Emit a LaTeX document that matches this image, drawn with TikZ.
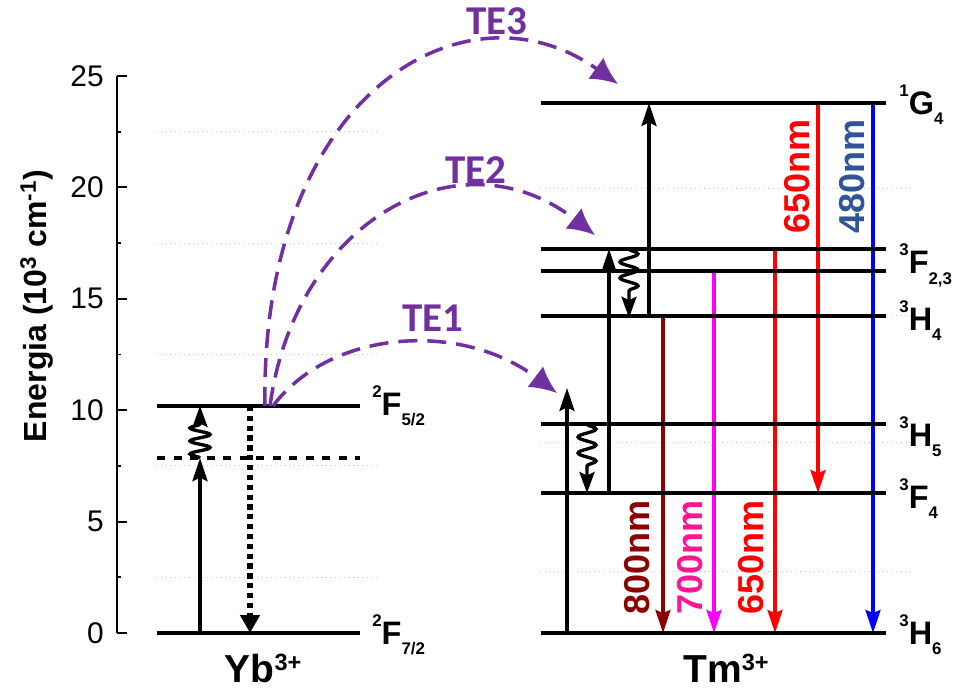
\documentclass[tikz,border=0pt]{standalone}
\usepackage{fontspec}
\setmainfont{Liberation Sans}
\newfontfamily\tefont{Carlito}
\usepackage{tikz}
\usetikzlibrary{arrows.meta,decorations.pathmorphing}

\definecolor{purp}{HTML}{7030A0}
\definecolor{nmdark}{HTML}{8B0000}
\definecolor{nmmag}{RGB}{255,0,255}
\definecolor{nmpink}{HTML}{FF1493}
\definecolor{nmblue}{HTML}{2F5597}

\newcommand{\ticksize}{\fontsize{17pt}{18pt}\selectfont}
\newcommand{\lvlsize}{\fontsize{18.5pt}{20pt}\selectfont\bfseries}
\newcommand{\nmsize}{\fontsize{20.5pt}{22pt}\selectfont\bfseries}
\newcommand{\ionsize}{\fontsize{22.2pt}{24pt}\selectfont\bfseries}
\newcommand{\term}[3]{\raisebox{0.56em}{\fontsize{9.6pt}{10pt}\selectfont #1}#2\raisebox{-0.31em}{\fontsize{9.6pt}{10pt}\selectfont #3}}

\begin{document}
\begin{tikzpicture}[x=1cm,y=0.4456cm,
  lvl/.style={line width=2.1pt},
  guide/.style={black!20,dotted,line width=0.6pt},
  exc/.style={line width=2pt,-{Stealth[length=0.46cm,width=0.3cm,inset=0.07cm]}},
  nonrad/.style={line width=1.9pt,decorate,
    decoration={snake,amplitude=0.18cm,segment length=0.32cm,post length=0.4cm},
    -{Stealth[length=0.42cm,width=0.3cm,inset=0.07cm]}},
  emis/.style={line width=2pt,-{Stealth[length=0.46cm,width=0.3cm,inset=0.06cm]}},
  transfer/.style={purp,line width=2pt,dash pattern=on 0.38cm off 0.2cm,
    -{Latex[length=0.54cm,width=0.52cm]}},
  lbl/.style={anchor=base west,inner sep=0,yshift=-0.23cm,font=\lvlsize},
  nm/.style={rotate=90,inner sep=0,font=\nmsize}]
\useasboundingbox (0,-2.558) rectangle (19.18,28.411);
% energy axis, in 10^3 cm^-1
\draw[line width=1.1pt] (2.334,0) -- (2.334,25);
\foreach \v in {0,5,...,25} {
  \draw[line width=1.1pt] (2.334,\v) -- (2.54,\v);
  \node[anchor=east,inner sep=0,font=\ticksize] (tick\v) at (2.08,\v) {\v};
}
\foreach \v in {2.5,7.5,...,22.5}
  \draw[line width=1.1pt] (2.334,\v) -- (2.42,\v);
\node[rotate=90,font=\fontsize{18.2pt}{20pt}\selectfont\bfseries] (ylab) at (0.74,14.68)
  {Energia (10\textsuperscript{3} cm\textsuperscript{-1})};
% faint guides
\foreach \v in {2.5,7.5,...,22.5}
  \draw[guide] (3.14,\v) -- (7.54,\v);
\foreach \v in {2.78,8.53,14.23,19.97}
  \draw[guide] (10.8,\v) -- (18.26,\v);

% Yb3+
\draw[exc] (4,0) -- (4,7.85);
\draw[nonrad,decoration={amplitude=0.2cm,segment length=0.26cm,post length=0.3cm}] (4,7.85) -- (4,10.19);
\draw[line width=3pt,dash pattern=on 3pt off 2.6pt,-{Triangle[length=0.36cm,width=0.38cm]}] (5,10.19) -- (5,0);
\draw[lvl] (3.14,0) -- (7.2,0);
\draw[lvl] (3.14,10.19) -- (7.2,10.19);
\draw[lvl,dash pattern=on 0.16cm off 0.17cm] (3.14,7.85) -- (7.2,7.85);
\node[lbl] (f52) at (7.44,10.28) {\term{2}{F}{5/2}};
\node[lbl] (f72) at (7.44,0) {\term{2}{F}{7/2}};
\node[anchor=base,inner sep=0,font=\ionsize] (yb) at (5.26,-2.24)
  {Yb\raisebox{0.33em}{\fontsize{13.4pt}{14pt}\selectfont 3+}};

% Tm3+ pumping and relaxation
\draw[exc] (11.34,0) -- (11.34,11.0);
\draw[nonrad] (11.74,9.38) -- (11.74,6.28);
\draw[exc] (12.18,6.28) -- (12.18,17.24);
\draw[nonrad] (12.58,17.24) -- (12.58,14.15);
\draw[exc] (12.98,14.23) -- (12.98,23.79);
% emissions
\draw[emis,nmdark] (13.26,14.23) -- (13.26,0);
\draw[emis,nmmag] (14.28,16.25) -- (14.28,0);
\draw[emis,red] (15.5,17.24) -- (15.5,0);
\draw[emis,red] (16.36,23.79) -- (16.36,6.28);
\draw[emis,blue] (17.46,23.79) -- (17.46,0);
\node[nm,text=nmdark] (nm800) at (12.75,3.41) {800nm};
\node[nm,text=nmpink] (nm700) at (13.8,3.41) {700nm};
\node[nm,text=red] (nm650a) at (15.02,3.41) {650nm};
\node[nm,text=red] (nm650b) at (15.95,20.47) {650nm};
\node[nm,text=nmblue] (nm480) at (17.04,20.47) {480nm};
% levels
\foreach \e in {0,6.28,9.38,14.23,16.25,17.24,23.79}
  \draw[lvl] (10.81,\e) -- (17.71,\e);
\node[lbl] (g4) at (17.98,23.77) {\term{1}{G}{4}};
\node[lbl] (f23) at (17.98,16.63) {\term{3}{F}{2,3}};
\node[lbl] (h4) at (17.98,14.1) {\term{3}{H}{4}};
\node[lbl] (h5) at (17.98,8.89) {\term{3}{H}{5}};
\node[lbl] (f4) at (17.98,6.1) {\term{3}{F}{4}};
\node[lbl] (h6) at (17.98,0) {\term{3}{H}{6}};
\node[anchor=base,inner sep=0,font=\ionsize] (tm) at (14.52,-2.24)
  {Tm\raisebox{0.33em}{\fontsize{13.4pt}{14pt}\selectfont 3+}};

% energy transfer Yb -> Tm
\coordinate (src1) at (5.46,10.19);
\coordinate (dst1) at (11.14,10.77);
\coordinate (src2) at (5.40,10.19);
\coordinate (dst2) at (11.90,17.86);
\coordinate (src3) at (5.30,10.19);
\coordinate (dst3) at (12.36,24.64);
\draw[transfer] (src1) .. controls (6.60,13.6) and (9.20,14.05) .. (dst1);
\draw[transfer] (src2) .. controls (5.90,18.54) and (9.20,22.58) .. (dst2);
\draw[transfer] (src3) .. controls (5.20,24.2) and (9.30,29.53) .. (dst3);
\node[text=purp,font=\tefont\bfseries\fontsize{23.3pt}{24pt}\selectfont] (te1) at (8.65,14.14) {TE1};
\node[text=purp,font=\tefont\bfseries\fontsize{23.3pt}{24pt}\selectfont] (te2) at (9.52,20.78) {TE2};
\node[text=purp,font=\tefont\bfseries\fontsize{23.3pt}{24pt}\selectfont] (te3) at (9.94,27.47) {TE3};
\end{tikzpicture}
\end{document}
